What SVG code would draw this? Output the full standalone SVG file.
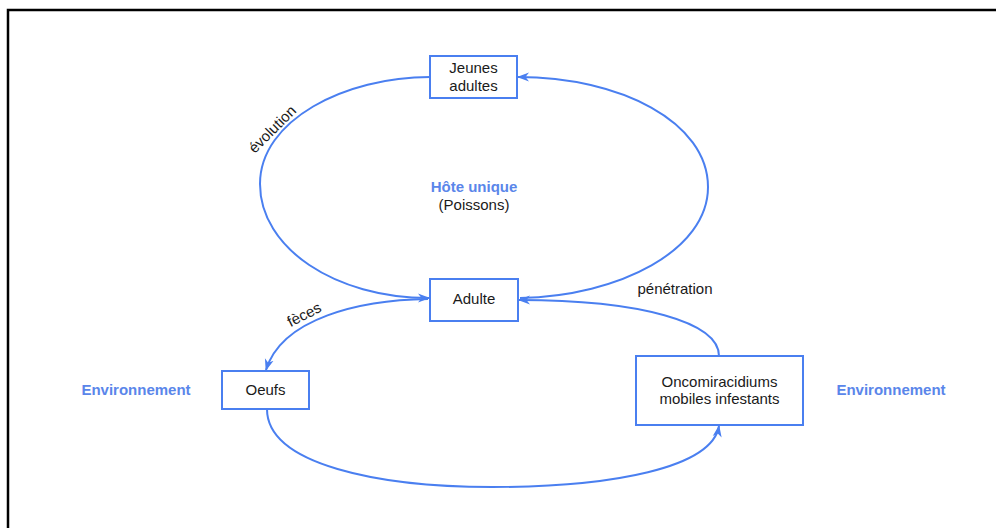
<svg xmlns="http://www.w3.org/2000/svg" width="996" height="528" viewBox="0 0 996 528">
  <style>
    .box { fill: #ffffff; stroke: #4a7ff0; stroke-width: 2; }
    .lbl { font-family: "Liberation Sans", Arial, sans-serif; font-size: 15px; fill: #1a1a1a; text-anchor: middle; }
    .env { font-family: "Liberation Sans", Arial, sans-serif; font-size: 15px; font-weight: bold; fill: #5a86ea; text-anchor: middle; }
    .edge { fill: none; stroke: #4a7ff0; stroke-width: 2; }
  </style>
  <defs>
    <marker id="arr" viewBox="0 0 12 10" refX="11" refY="5" markerWidth="12" markerHeight="10" markerUnits="userSpaceOnUse" orient="auto">
      <path d="M0,0.5 L12,5 L0,9.5 L3.5,5 z" fill="#4a7ff0"/>
    </marker>
  </defs>
  <rect x="0" y="0" width="996" height="528" fill="#ffffff"/>
  <path d="M8,528 L8,10 L996,10" fill="none" stroke="#000000" stroke-width="2.5"/>

  <g id="connectors">
    <path class="edge" d="M430,77 C345,77 260,120 260,184 C260,248 335,298 429,298" marker-end="url(#arr)"/>
    <path class="edge" d="M520,298 C620,296 708,250 708,187 C708,122 620,77 518,77" marker-end="url(#arr)"/>
    <path class="edge" d="M719,356 C719,322 640,300 519,300" marker-end="url(#arr)"/>
    <path class="edge" d="M428,299 C360,300 282,318 266,370" marker-end="url(#arr)"/>
    <path class="edge" d="M267,409 C267,465 380,487 492,487 C612,487 712,468 719,426" marker-end="url(#arr)"/>
    <text class="lbl" transform="translate(278,135) rotate(-45)" y="-3">évolution</text>
    <text class="lbl" transform="translate(307,320) rotate(-27)" y="-1">fèces</text>
    <text class="lbl" x="675" y="294">pénétration</text>
  </g>

  <g id="jeunes">
    <rect class="box" x="430" y="56" width="87" height="42"/>
    <text class="lbl" x="473.5" y="73">Jeunes</text>
    <text class="lbl" x="473.5" y="91">adultes</text>
  </g>
  <g id="hote">
    <text class="env" x="474" y="192">Hôte unique</text>
    <text class="lbl" x="474" y="210">(Poissons)</text>
  </g>
  <g id="adulte">
    <rect class="box" x="430" y="279" width="88" height="42"/>
    <text class="lbl" x="474" y="304">Adulte</text>
  </g>
  <g id="oeufs">
    <rect class="box" x="222" y="371" width="87" height="38"/>
    <text class="lbl" x="265.5" y="395">Oeufs</text>
  </g>
  <g id="oncomiracidiums">
    <rect class="box" x="636" y="356" width="167" height="69"/>
    <text class="lbl" x="719.5" y="387">Oncomiracidiums</text>
    <text class="lbl" x="719.5" y="404">mobiles infestants</text>
  </g>
  <g id="env-left">
    <text class="env" x="136" y="395">Environnement</text>
  </g>
  <g id="env-right">
    <text class="env" x="891" y="395">Environnement</text>
  </g>
</svg>
